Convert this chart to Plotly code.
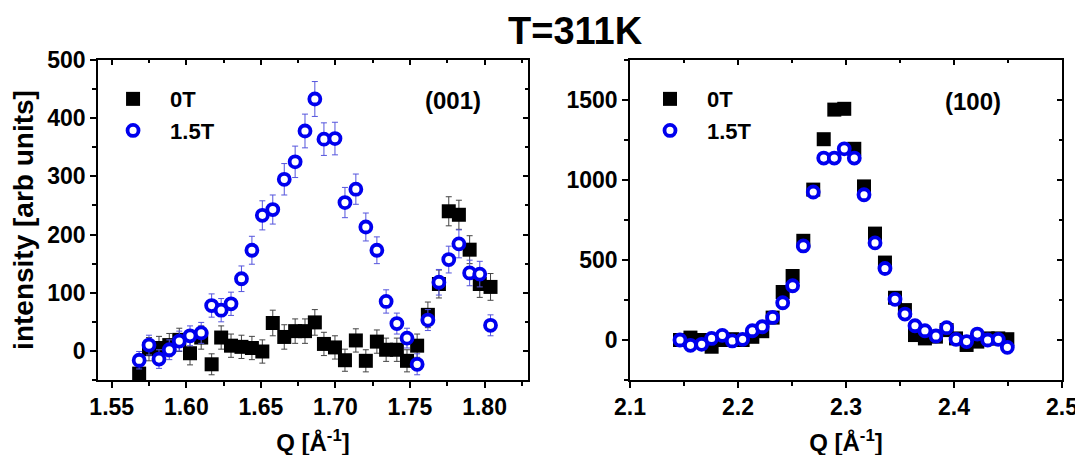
import plotly.graph_objects as go

# ---- (001) reflection, left panel ----
q_001 = [1.5684, 1.575, 1.5817, 1.5886, 1.5953, 1.6025, 1.610, 1.617, 1.6234, 1.630,
         1.637, 1.644, 1.651, 1.658, 1.6657, 1.673, 1.6796, 1.6862, 1.6923, 1.6997,
         1.7064, 1.7137, 1.7204, 1.7278, 1.734, 1.7412, 1.748, 1.7548, 1.762, 1.7694,
         1.776, 1.7828, 1.790, 1.7968, 1.804]
i_001_0T = [-39, 3, 5, 10, 19, -4, 23, -23, 23, 9,
            7, 5, -1, 48, 24, 34, 34, 49, 12, 6,
            -16, 18, -17, 16, 2, 2, -17, 9, 62, 115,
            240, 234, 174, 115, 110]
err_001_0T = [18, 20, 20, 20, 20, 20, 20, 18, 20, 20,
              20, 20, 20, 22, 21, 21, 21, 22, 20, 20,
              19, 20, 19, 20, 20, 20, 19, 20, 22, 24,
              25, 25, 24, 23, 23]
i_001_15T = [-16, 10, -14, 2, 17, 26, 31, 78, 70, 81,
             124, 173, 233, 243, 295, 325, 378, 433, 364, 365,
             255, 278, 213, 173, 85, 47, 22, -23, 53, 118,
             157, 184, 134, 132, 44]
err_001_15T = [15, 17, 16, 17, 17, 17, 18, 20, 20, 20,
               22, 24, 25, 25, 27, 27, 29, 30, 28, 28,
               26, 26, 24, 23, 20, 18, 17, 18, 18, 22,
               23, 24, 22, 22, 18]

# ---- (100) reflection, right panel ----
q_100 = [2.1463, 2.156, 2.1664, 2.1756, 2.1855, 2.1947, 2.2043, 2.2133, 2.2225, 2.2321,
         2.2414, 2.2506, 2.2605, 2.2697, 2.2794, 2.2892, 2.2984, 2.3077, 2.3167, 2.3269,
         2.3361, 2.3454, 2.3546, 2.3639, 2.3731, 2.3833, 2.3932, 2.4019, 2.4117, 2.4216,
         2.4312, 2.441, 2.4494]
i_100_0T = [0, 15, 0, -42, 0, 5, 0, 20, 55, 140,
            300, 400, 620, 940, 1255, 1440, 1445, 1195, 960, 665,
            484, 264, 187, 31, 10, 21, 62, 10, -31, -10,
            10, 10, 5]
i_100_15T = [0, -33, -27, 10, 29, -6, 4, 58, 83, 141,
             233, 339, 588, 925, 1137, 1137, 1195, 1137, 908, 607,
             447, 254, 162, 89, 58, 25, 77, 4, -10, 37,
             0, 4, -46]

FONT = "Arial, Liberation Sans, sans-serif"
BLUE = "#0000ee"

fig = go.Figure()

# left panel
fig.add_trace(go.Scatter(
    x=q_001, y=i_001_0T, mode="markers", name="0T",
    marker=dict(symbol="square", size=14, color="black"),
    error_y=dict(type="data", array=err_001_0T, color="#444", thickness=1, width=3),
    xaxis="x", yaxis="y", legend="legend",
))
fig.add_trace(go.Scatter(
    x=q_001, y=i_001_15T, mode="markers", name="1.5T",
    marker=dict(symbol="circle", size=11, color="white", line=dict(color=BLUE, width=3.8)),
    error_y=dict(type="data", array=err_001_15T, color="#5555dd", thickness=1, width=3),
    xaxis="x", yaxis="y", legend="legend",
))

# right panel
fig.add_trace(go.Scatter(
    x=q_100, y=i_100_0T, mode="markers", name="0T",
    marker=dict(symbol="square", size=14, color="black"),
    xaxis="x2", yaxis="y2", legend="legend2",
))
fig.add_trace(go.Scatter(
    x=q_100, y=i_100_15T, mode="markers", name="1.5T",
    marker=dict(symbol="circle", size=11, color="white", line=dict(color=BLUE, width=3.8)),
    xaxis="x2", yaxis="y2", legend="legend2",
))

# empty traces so the inward mirror-tick axes get drawn
for xa, ya in [("x3", "y"), ("x", "y3"), ("x4", "y2"), ("x2", "y4")]:
    fig.add_trace(go.Scatter(x=[], y=[], xaxis=xa, yaxis=ya, showlegend=False, hoverinfo="skip"))

tickfont = dict(family=FONT, size=23, color="black", weight="bold")
xtitlefont = dict(family=FONT, size=24, color="black", weight="bold")
ytitlefont = dict(family=FONT, size=28, color="black", weight="bold")
legfont = dict(family=FONT, size=22, color="black", weight="bold")

common = dict(showgrid=False, zeroline=False, showline=True, linecolor="black", linewidth=1.5,
              mirror=True, ticks="outside", ticklen=6, tickwidth=1.5, tickcolor="black",
              tickfont=tickfont, automargin=False)
inner = dict(showgrid=False, zeroline=False, showline=False, showticklabels=False,
             ticks="inside", ticklen=5, tickwidth=1.5, tickcolor="black", automargin=False)

xl = [1.5408, 1.8291]
yl = [-50, 500]
xr = [2.1, 2.5]
yr = [-250, 1750]

# the page body adds an 8 px offset, domains below account for it
ydom = [0.1824, 0.8857]

fig.update_layout(
    width=1083, height=455,
    paper_bgcolor="white", plot_bgcolor="white",
    margin=dict(l=0, r=0, t=0, b=0, autoexpand=False),
    xaxis=dict(domain=[0.0831, 0.4801], anchor="y", range=xl, dtick=0.05, tick0=1.55,
               tickformat=".2f", minor=dict(dtick=0.025, ticks="outside", ticklen=4, tickcolor="black"),
               title=dict(text="Q [Å<sup>-1</sup>]", font=xtitlefont), **common),
    yaxis=dict(domain=ydom, anchor="x", range=yl, dtick=100,
               minor=dict(dtick=50, ticks="outside", ticklen=4, tickcolor="black"),
               title=dict(text="intensity [arb units]", font=ytitlefont, standoff=12), **common),
    xaxis2=dict(domain=[0.5743, 0.9732], anchor="y2", range=xr, dtick=0.1, tick0=2.1,
                tickformat=".1f", minor=dict(dtick=0.05, ticks="outside", ticklen=4, tickcolor="black"),
                title=dict(text="Q [Å<sup>-1</sup>]", font=xtitlefont), **common),
    yaxis2=dict(domain=ydom, anchor="x2", range=yr, dtick=500,
                minor=dict(dtick=250, ticks="outside", ticklen=4, tickcolor="black"), **common),
    xaxis3=dict(overlaying="x", anchor="y", side="top", range=xl, dtick=0.05, tick0=1.55,
                minor=dict(dtick=0.025, ticks="inside", ticklen=3, tickcolor="black"), **inner),
    yaxis3=dict(overlaying="y", anchor="x", side="right", range=yl, dtick=100,
                minor=dict(dtick=50, ticks="inside", ticklen=3, tickcolor="black"), **inner),
    xaxis4=dict(overlaying="x2", anchor="y2", side="top", range=xr, dtick=0.1, tick0=2.1,
                minor=dict(dtick=0.05, ticks="inside", ticklen=3, tickcolor="black"), **inner),
    yaxis4=dict(overlaying="y2", anchor="x2", side="right", range=yr, dtick=500,
                minor=dict(dtick=250, ticks="inside", ticklen=3, tickcolor="black"), **inner),
    legend=dict(x=0.0813, y=0.846, xanchor="left", yanchor="top", bgcolor="rgba(0,0,0,0)",
                font=legfont, itemwidth=64, tracegroupgap=0),
    legend2=dict(x=0.5771, y=0.846, xanchor="left", yanchor="top", bgcolor="rgba(0,0,0,0)",
                 font=legfont, itemwidth=64, tracegroupgap=0),
    annotations=[
        dict(text="T=311K", xref="paper", yref="paper", x=0.524, y=1.0, xanchor="center",
             yanchor="top", showarrow=False, font=dict(family=FONT, size=38, color="black", weight="bold")),
        dict(text="(001)", xref="x domain", yref="y domain", x=0.895, y=0.875, xanchor="right",
             yanchor="middle", showarrow=False, font=dict(family=FONT, size=24, color="black", weight="bold")),
        dict(text="(100)", xref="x2 domain", yref="y2 domain", x=0.863, y=0.87, xanchor="right",
             yanchor="middle", showarrow=False, font=dict(family=FONT, size=24, color="black", weight="bold")),
    ],
)

fig.write_html("out.html")
